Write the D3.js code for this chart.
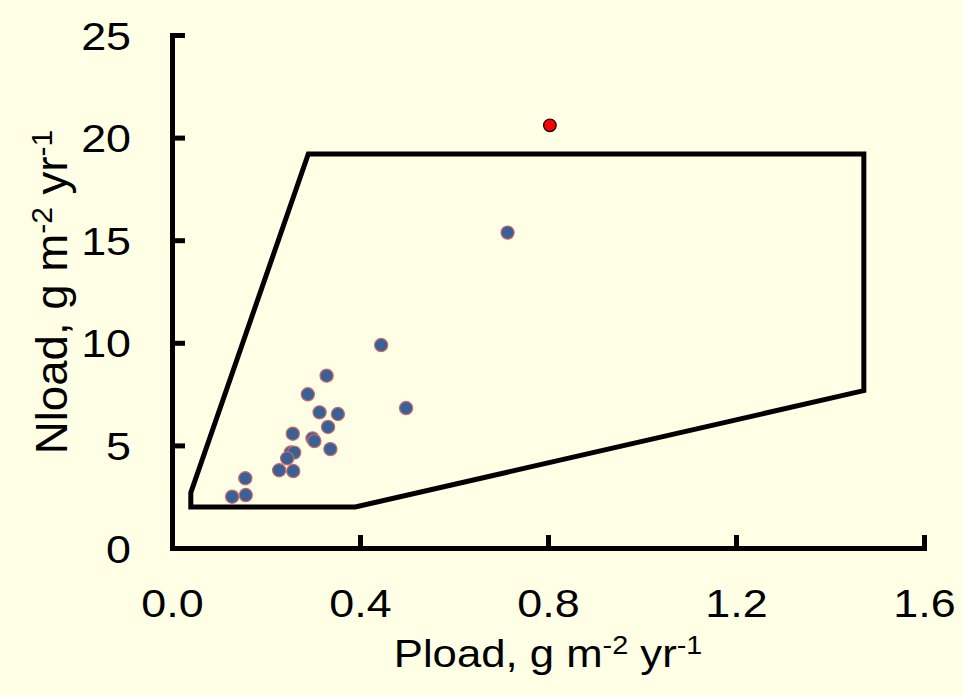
<!DOCTYPE html>
<html>
<head>
<meta charset="utf-8">
<script src="https://cdn.jsdelivr.net/npm/d3@7"></script>
<style>
  body { margin: 0; background: #ffffe5; }
  svg { display: block; }
</style>
</head>
<body>
<svg id="chart" width="963" height="696"></svg>
<script>
// data
var pload = [0.329, 0.289, 0.314, 0.353, 0.332, 0.257, 0.299, 0.303, 0.337, 0.253, 0.260, 0.245, 0.228, 0.258, 0.156, 0.157, 0.128, 0.445, 0.498, 0.714];
var nload = [8.40, 7.49, 6.61, 6.53, 5.90, 5.57, 5.34, 5.21, 4.82, 4.66, 4.65, 4.37, 3.79, 3.75, 3.40, 2.58, 2.50, 9.89, 6.82, 15.37];
var outlierP = [0.804];
var outlierN = [20.6];
// envelope polygon
var boxP = [0.04, 0.04, 0.29, 1.472, 1.472, 0.39];
var boxN = [2.0, 2.7, 19.2, 19.2, 7.67, 2.0];
var xTicks = [0.0, 0.4, 0.8, 1.2, 1.6];
var yTicks = [0, 5, 10, 15, 20, 25];

var svg = d3.select("#chart");
var font = "'Liberation Sans', Arial, sans-serif";
var stretch = 1.15; // the original picture is a bit wider than tall

var x = d3.scaleLinear().domain([0, 1.6]).range([172, 924]);
var y = d3.scaleLinear().domain([0, 25]).range([548, 35]);

// background
svg.append("rect")
    .attr("width", 963).attr("height", 696)
    .attr("fill", "#ffffe5");

// envelope
var line = d3.line()
    .x(function (d) { return x(d[0]); })
    .y(function (d) { return y(d[1]); });
svg.append("path")
    .attr("d", line(d3.zip(boxP, boxN)) + "Z")
    .attr("fill", "none")
    .attr("stroke", "#000")
    .attr("stroke-width", 5)
    .attr("stroke-linejoin", "miter");

// axes
var xAxis = svg.append("g")
    .attr("transform", "translate(0," + y(0) + ")")
    .call(d3.axisBottom(x).tickValues(xTicks).tickSizeInner(-13).tickSizeOuter(0)
        .tickFormat(d3.format(".1f")));
var yAxis = svg.append("g")
    .attr("transform", "translate(" + x(0) + ",0)")
    .call(d3.axisLeft(y).tickValues(yTicks).tickSizeInner(-13).tickSizeOuter(0));

[xAxis, yAxis].forEach(function (ax) {
    ax.select(".domain").attr("stroke", "#000").attr("stroke-width", 5).attr("stroke-linecap", "square");
    ax.selectAll(".tick line").attr("stroke", "#000").attr("stroke-width", 5);
    ax.selectAll(".tick text")
        .attr("fill", "#000")
        .attr("x", 0).attr("y", 0).attr("dy", null)
        .style("font-family", font)
        .style("font-size", "39px");
});
xAxis.selectAll(".tick text")
    .attr("text-anchor", "middle")
    .attr("transform", "translate(0,69) scale(" + stretch + ",1)");
yAxis.selectAll(".tick text")
    .attr("text-anchor", "end")
    .attr("transform", "translate(-41,14) scale(" + stretch + ",1)");

// points
svg.append("g").selectAll("circle")
    .data(d3.zip(pload, nload))
    .enter()
    .append("circle")
    .attr("cx", function (d) { return x(d[0]); })
    .attr("cy", function (d) { return y(d[1]); })
    .attr("r", 6.6)
    .attr("fill", "#3a6196")
    .attr("stroke", "#d0686a")
    .attr("stroke-width", 1.2);

svg.append("g").selectAll("circle")
    .data(d3.zip(outlierP, outlierN))
    .enter()
    .append("circle")
    .attr("cx", function (d) { return x(d[0]); })
    .attr("cy", function (d) { return y(d[1]); })
    .attr("r", 6.3)
    .attr("fill", "#ff0000")
    .attr("stroke", "#000")
    .attr("stroke-width", 1.2);

// axis titles
function title(sel, name) {
    sel.append("tspan").text(name + ", g m");
    sel.append("tspan").text("-2").attr("dy", -13).style("font-size", "25px");
    sel.append("tspan").text(" yr").attr("dy", 13);
    sel.append("tspan").text("-1").attr("dy", -13).style("font-size", "25px");
}
var xt = svg.append("text")
    .attr("transform", "translate(548,667) scale(" + stretch + ",1)")
    .attr("text-anchor", "middle")
    .style("font-family", font).style("font-size", "38px");
title(xt, "Pload");

var yt = svg.append("text")
    .attr("transform", "translate(67,292) rotate(-90) scale(1.2," + stretch + ")")
    .attr("text-anchor", "middle")
    .style("font-family", font).style("font-size", "38px");
title(yt, "Nload");
</script>
</body>
</html>
